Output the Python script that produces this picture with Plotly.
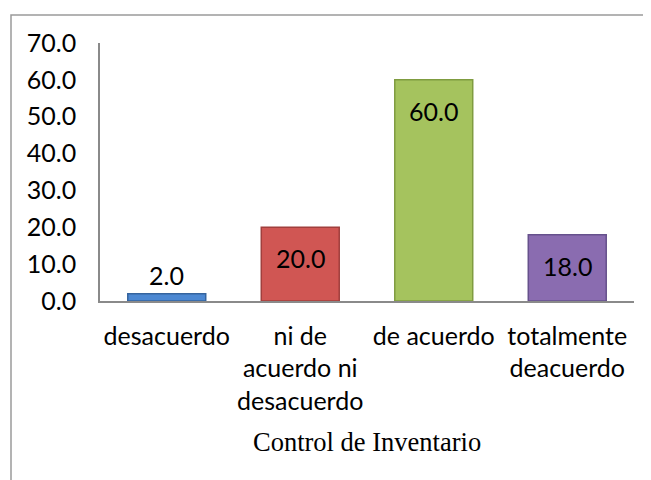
import plotly.graph_objects as go

categories = ["desacuerdo", "ni de<br>acuerdo ni<br>desacuerdo", "de acuerdo", "totalmente<br>deacuerdo"]
values = [2.0, 20.0, 60.0, 18.0]
bar_colors = ["#4c88d2", "#d05653", "#a5c35e", "#8a6cb0"]
edge_colors = ["#35649e", "#a13f3d", "#7f9c40", "#66518c"]
axis_title = "Control de Inventario"
y_ticks = [0, 10, 20, 30, 40, 50, 60, 70]

# page body has an 8px margin; offsets below compensate
OFF = 8
L, R_EDGE, TOP, BOT = 100 - OFF, 634 - OFF, 43 - OFF, 301 - OFF
W, H = 651, 480
PW, PH = R_EDGE - L, BOT - TOP

fig = go.Figure()
fig.add_trace(go.Bar(
    x=categories, y=values,
    marker=dict(color=bar_colors, line=dict(color=edge_colors, width=1.5)),
    hoverinfo="skip",
))

annotations = []
for c, v in zip(categories, values):
    inside = v >= 10
    annotations.append(dict(
        x=c, y=v, xref="x", yref="y", text=f"{v:.1f}", showarrow=False,
        yanchor="middle", yshift=-31 if inside else 19,
        font=dict(family="Lato", size=25, color="#000000"),
    ))
annotations.append(dict(
    x=0.5, y=(BOT - (442 - OFF)) / PH, xref="paper", yref="paper", text=axis_title,
    showarrow=False, yanchor="middle", xanchor="center",
    font=dict(family="Liberation Serif", size=26.5, color="#000000"),
))

fig.update_layout(
    width=W, height=H,
    margin=dict(l=L, r=W - R_EDGE, t=TOP, b=H - BOT, autoexpand=False),
    paper_bgcolor="white", plot_bgcolor="white",
    showlegend=False,
    bargap=0.416,
    annotations=annotations,
    shapes=[dict(type="rect", xref="paper", yref="paper",
                 x0=(11 - OFF - L) / PW, x1=1.3, y0=-1.0, y1=(BOT - (15 - OFF)) / PH,
                 line=dict(color="#9a9a9a", width=1.5), fillcolor="rgba(0,0,0,0)", layer="below")],
    font=dict(family="Lato", size=25, color="#000000"),
)
fig.update_yaxes(
    range=[0, 70], tickvals=y_ticks, tickformat=".1f", automargin=False,
    showgrid=False, zeroline=False, showline=True, linecolor="#8a8a8a", linewidth=1.5,
    ticks="", ticklabelstandoff=17,
    tickfont=dict(family="Lato", size=25, color="#000000"),
)
fig.update_xaxes(
    automargin=False,
    showgrid=False, showline=True, linecolor="#8a8a8a", linewidth=1.5,
    ticks="", ticklabelstandoff=12,
    tickfont=dict(family="Lato", size=25, color="#000000"),
)

fig.write_html("out.html")
